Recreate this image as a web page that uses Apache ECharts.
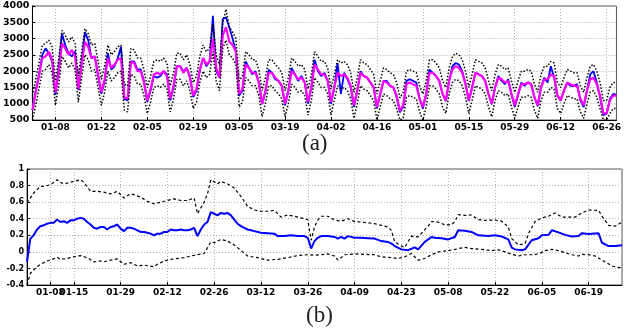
<!DOCTYPE html>
<html><head><meta charset="utf-8">
<script src="https://cdn.jsdelivr.net/npm/echarts@6/dist/echarts.min.js"></script>
<style>html,body{margin:0;padding:0;background:#fff}#c{width:624px;height:328px}</style>
</head><body><div id="c"></div>
<script>
// ---------- Panel (a): daily values, day 0 = 01-01 ----------
const topActual = [
 800,1400,1900,2500,2700,2550,2300,
 1270,2100,3150,2800,2550,2450,2600,
 1420,2300,3200,2950,2400,2450,1850,
 1300,1700,2550,2050,2150,2400,2750,
 1150,1100,2300,2300,2050,2050,1700,
 1050,1400,1850,1800,1850,2000,1900,
 1100,1500,2150,2150,2000,2100,1850,
 1200,1400,2000,2400,2150,2300,3700,2000,
 1800,3600,3650,3350,3000,2600,
 1250,1400,2300,2100,1900,2000,1650,
 980,1350,2050,1950,1750,1700,1550,
 950,1400,2100,1900,1700,1850,1650,
 1000,1500,2350,2000,1850,1950,1700,
 1000,1500,2250,1300,1950,1750,1500,
 900,1400,2000,1850,1800,1650,1500,
 860,1300,1700,1700,1550,1500,1200,
 740,900,1700,1750,1700,1650,1150,
 850,1300,2050,1950,1850,1700,1300,
 1080,1700,2150,2250,2200,2000,1600,
 1080,1500,1950,1900,1850,1700,1300,
 980,1500,1850,1700,1600,1750,1300,
 900,1250,1650,1550,1650,1600,1200,
 920,1500,1800,1650,2150,1800,1250,
 1100,1400,1650,1550,1550,1600,1100,
 900,1400,1900,2000,1650,1200,650,
 700,1150,1300,1280
];
const topPredicted = [
 800,1350,1850,2400,2450,2600,2350,
 1350,1950,2850,2700,2500,2650,2450,
 1450,2200,2900,2750,2400,2450,1900,
 1350,1750,2400,2100,2200,2350,2400,
 1200,1150,2300,2250,2000,2000,1650,
 1100,1450,1900,1950,1900,2000,1850,
 1150,1550,2150,2150,1950,2100,1800,
 1250,1450,2050,2400,2200,2300,3000,2100,
 1800,3100,3350,2900,2800,2600,
 1300,1450,2200,2100,1950,1950,1650,
 1000,1400,1950,1950,1800,1700,1550,
 1000,1400,2000,1900,1750,1800,1650,
 1050,1500,2200,2050,1900,1900,1700,
 1050,1500,1950,1850,1900,1800,1550,
 950,1400,1950,1850,1800,1650,1500,
 900,1300,1700,1650,1550,1500,1250,
 780,950,1600,1650,1600,1550,1150,
 900,1300,1950,1950,1850,1700,1300,
 1100,1700,2050,2150,2100,1950,1600,
 1100,1500,1950,1900,1850,1700,1300,
 1000,1500,1800,1750,1650,1700,1300,
 950,1300,1600,1600,1650,1600,1200,
 950,1500,1750,1750,1900,1850,1250,
 1100,1400,1650,1600,1550,1550,1150,
 950,1400,1750,1800,1600,1250,700,
 700,1100,1250,1250
];
const topUpper = [
 1250,1750,2250,2800,2850,2950,2750,
 1700,2350,3250,3100,2900,3050,2850,
 1850,2600,3300,3150,2800,2850,2300,
 1750,2150,2800,2500,2600,2750,2800,
 1600,1550,2700,2650,2400,2400,2050,
 1500,1850,2300,2350,2300,2400,2250,
 1550,1950,2550,2550,2350,2500,2200,
 1650,1850,2450,2800,2600,2700,3450,2500,
 2200,3500,3900,3350,3200,3000,
 1700,1850,2600,2500,2350,2350,2050,
 1400,1800,2350,2350,2200,2100,1950,
 1400,1800,2400,2300,2150,2200,2050,
 1450,1900,2600,2450,2300,2300,2100,
 1450,1900,2350,2250,2300,2200,1950,
 1350,1800,2350,2250,2200,2050,1900,
 1300,1700,2100,2050,1950,1900,1650,
 1180,1350,2000,2050,2000,1950,1550,
 1300,1700,2350,2350,2250,2100,1700,
 1500,2100,2450,2550,2500,2350,2000,
 1500,1900,2350,2300,2250,2100,1700,
 1400,1900,2200,2150,2050,2100,1700,
 1350,1700,2000,2000,2050,2000,1600,
 1350,1900,2150,2150,2300,2250,1650,
 1500,1800,2050,2000,1950,1950,1550,
 1350,1800,2150,2200,2000,1650,1100,
 1100,1500,1650,1650
];
const topLower = [
 500,950,1450,2000,2050,2200,1950,
 950,1550,2450,2300,2100,2250,2050,
 1050,1800,2500,2350,2000,2050,1500,
 950,1350,2000,1700,1800,1950,2000,
 800,750,1900,1850,1600,1600,1250,
 700,1050,1500,1550,1500,1600,1450,
 750,1150,1750,1750,1550,1700,1400,
 850,1050,1650,2000,1800,1900,2600,1700,
 1400,2700,2950,2500,2400,2200,
 900,1050,1800,1700,1550,1550,1250,
 600,1000,1550,1550,1400,1300,1150,
 600,1000,1600,1500,1350,1400,1250,
 650,1100,1800,1650,1500,1500,1300,
 650,1100,1550,1450,1500,1400,1150,
 550,1000,1550,1450,1400,1250,1100,
 500,900,1300,1250,1150,1100,850,
 500,550,1200,1250,1200,1150,750,
 500,900,1550,1550,1450,1300,900,
 700,1300,1650,1750,1700,1550,1200,
 700,1100,1550,1500,1450,1300,900,
 600,1100,1400,1350,1250,1300,900,
 550,900,1200,1200,1250,1200,800,
 550,1100,1350,1350,1500,1450,850,
 700,1000,1250,1200,1150,1150,750,
 550,1000,1350,1400,1200,850,500,
 500,700,850,850
];
const topTickDays = [7,21,35,49,63,77,91,105,119,133,147,161,175];
const topTickLabels = ['01-08','01-22','02-05','02-19','03-05','03-19','04-02','04-16','05-01','05-15','05-29','06-12','06-26'];

// ---------- Panel (b): [day, value] samples ----------
const botMean = [[0,-0.12],[1,0.16],[2,0.2],[3,0.27],[4,0.31],[5,0.32],[6,0.34],[7,0.35],[8,0.35],[9,0.39],[10,0.36],[11,0.37],[12,0.35],[13,0.38],[14,0.38],[15,0.40],[16,0.41],[17,0.40],[18,0.36],[19,0.33],[20,0.29],[21,0.28],[22,0.30],[23,0.30],[24,0.27],[25,0.30],[26,0.31],[27,0.33],[28,0.28],[29,0.25],[30,0.29],[31,0.29],[32,0.28],[33,0.26],[34,0.24],[35,0.24],[36,0.23],[37,0.22],[38,0.20],[39,0.22],[40,0.22],[41,0.24],[42,0.24],[43,0.27],[44,0.26],[45,0.26],[46,0.27],[47,0.26],[48,0.26],[49,0.27],[50,0.29],[51,0.19],[52,0.27],[53,0.33],[54,0.36],[55,0.48],[56,0.46],[57,0.44],[58,0.47],[59,0.46],[60,0.47],[61,0.44],[62,0.39],[63,0.34],[64,0.31],[65,0.29],[66,0.27],[67,0.26],[68,0.25],[70,0.23],[72,0.225],[74,0.22],[75,0.19],[77,0.19],[79,0.20],[81,0.19],[83,0.19],[84,0.17],[85,0.04],[86,0.13],[87,0.17],[88,0.19],[90,0.19],[92,0.18],[93,0.16],[94,0.18],[95,0.16],[96,0.19],[98,0.17],[100,0.17],[102,0.165],[104,0.16],[106,0.13],[108,0.12],[109,0.10],[110,0.07],[112,0.03],[114,0.02],[116,0.055],[117,0.03],[119,0.12],[121,0.18],[122,0.17],[124,0.165],[126,0.15],[128,0.18],[129,0.26],[131,0.255],[133,0.24],[135,0.20],[138,0.19],[140,0.20],[142,0.185],[144,0.15],[145,0.05],[146,0.03],[148,0.02],[149,0.03],[151,0.14],[153,0.165],[154,0.2],[156,0.205],[157,0.26],[159,0.235],[161,0.205],[163,0.185],[165,0.19],[166,0.225],[168,0.215],[171,0.225],[172,0.11],[174,0.07],[176,0.07],[178,0.08]];
const botUpper = [[0,0.59],[2,0.71],[4,0.79],[5,0.79],[7,0.81],[9,0.87],[10,0.84],[11,0.82],[13,0.84],[16,0.87],[17,0.84],[19,0.73],[21,0.73],[23,0.72],[25,0.70],[27,0.73],[29,0.65],[31,0.70],[32,0.69],[34,0.66],[36,0.61],[38,0.58],[40,0.60],[42,0.62],[44,0.64],[46,0.62],[48,0.62],[50,0.65],[51,0.46],[53,0.60],[54,0.70],[55,0.87],[57,0.82],[58,0.85],[60,0.82],[62,0.77],[64,0.67],[66,0.55],[68,0.505],[70,0.49],[72,0.49],[74,0.50],[76,0.42],[78,0.445],[80,0.43],[82,0.41],[84,0.39],[85,0.14],[86,0.30],[87,0.385],[88,0.43],[90,0.43],[92,0.385],[94,0.37],[96,0.40],[98,0.365],[100,0.36],[102,0.35],[104,0.34],[106,0.32],[108,0.30],[109,0.26],[110,0.12],[112,0.07],[113,0.055],[115,0.19],[117,0.18],[120,0.31],[121,0.365],[123,0.36],[125,0.325],[127,0.33],[128,0.365],[129,0.45],[131,0.44],[133,0.445],[135,0.39],[137,0.38],[140,0.385],[142,0.37],[144,0.30],[145,0.16],[147,0.083],[149,0.10],[150,0.22],[152,0.365],[154,0.41],[156,0.43],[158,0.47],[160,0.42],[162,0.42],[164,0.42],[166,0.47],[168,0.505],[171,0.50],[172,0.43],[174,0.32],[176,0.31],[178,0.36]];
const botLower = [[0,-0.4],[1,-0.26],[3,-0.18],[4,-0.15],[6,-0.11],[7,-0.10],[9,-0.065],[10,-0.09],[12,-0.08],[14,-0.06],[16,-0.045],[18,-0.07],[20,-0.12],[22,-0.11],[23,-0.12],[25,-0.10],[27,-0.085],[29,-0.15],[31,-0.13],[33,-0.17],[35,-0.16],[38,-0.18],[39,-0.15],[41,-0.11],[43,-0.09],[45,-0.08],[47,-0.07],[49,-0.05],[51,-0.035],[53,-0.02],[55,0.12],[56,0.11],[58,0.15],[60,0.13],[62,0.083],[64,0.017],[66,-0.05],[69,-0.07],[72,-0.10],[75,-0.09],[78,-0.07],[81,-0.045],[84,-0.035],[86,-0.04],[88,-0.035],[90,-0.025],[92,-0.05],[93,-0.10],[95,-0.035],[98,-0.025],[101,-0.03],[104,-0.035],[106,-0.06],[109,-0.07],[111,-0.08],[113,-0.06],[115,-0.02],[117,-0.10],[119,-0.08],[121,-0.035],[123,0.0],[126,0.015],[128,0.03],[131,0.055],[133,0.04],[136,0.03],[139,0.015],[141,0.025],[143,0.0],[145,-0.03],[147,-0.05],[149,-0.035],[151,-0.035],[153,-0.025],[155,0.015],[157,0.03],[159,0.015],[161,-0.01],[163,-0.035],[165,-0.05],[166,-0.03],[168,-0.035],[170,-0.05],[172,-0.10],[175,-0.17],[177,-0.19],[178,-0.19]];
const botTickDays = [7,14,28,42,56,70,84,98,112,126,140,154,168];
const botTickLabels = ['01-08','01-15','01-29','02-12','02-26','03-12','03-26','04-09','04-23','05-08','05-22','06-05','06-19'];

const nDays = topActual.length;
const days = Array.from({length: nDays}, (_, i) => String(i));

const labelFont = {fontFamily: 'DejaVu Sans', fontWeight: 'bold', color: '#000'};
const gridDot = {color: '#b0b0b0', type: [1, 2], width: 1};

function xAxisFor(gridIndex, tickDays, tickLabels, showLine) {
  const show = (i) => tickDays.indexOf(i) >= 0;
  return {
    type: 'category', gridIndex, data: days, boundaryGap: false, position: 'bottom',
    axisLine: {show: showLine, onZero: false, lineStyle: {color: '#000', width: 1}},
    axisTick: {show: true, inside: true, length: 3, interval: show, lineStyle: {color: '#000'}},
    axisLabel: Object.assign({interval: show, fontSize: 9, margin: 3, hideOverlap: false,
      formatter: (v) => { const k = tickDays.indexOf(Number(v)); return k >= 0 ? tickLabels[k] : ''; }}, labelFont),
    splitLine: {show: true, interval: show, lineStyle: gridDot}
  };
}

const chart = echarts.init(document.getElementById('c'), null, {renderer: 'canvas'});
chart.setOption({
  animation: false,
  backgroundColor: '#fff',
  title: [
    {text: '(a)', left: 297, top: 127, textStyle: {fontFamily: 'Liberation Serif', fontSize: 23, fontWeight: 'normal', color: '#222'}},
    {text: '(b)', left: 301, top: 299, textStyle: {fontFamily: 'Liberation Serif', fontSize: 23, fontWeight: 'normal', color: '#222'}}
  ],
  grid: [
    {left: 32, right: 4, top: 6, height: 114, show: true, borderColor: '#555', borderWidth: 1},
    {left: 27, right: 2, top: 169, height: 116, show: true, borderColor: '#555', borderWidth: 1}
  ],
  xAxis: [
    xAxisFor(0, topTickDays, topTickLabels, true),
    // panel (b): the first tick sits on its own axis so its label may overlap the next one, as in the source
    xAxisFor(1, botTickDays.slice(1), botTickLabels.slice(1), true),
    xAxisFor(1, botTickDays.slice(0, 1), botTickLabels.slice(0, 1), false)
  ],
  yAxis: [
    {type: 'value', gridIndex: 0, min: 500, max: 4000, interval: 500,
     axisLine: {show: true, lineStyle: {color: '#000'}},
     axisTick: {show: true, inside: true, length: 3, lineStyle: {color: '#000'}},
     axisLabel: Object.assign({fontSize: 9.5, margin: 3, formatter: (v) => String(v)}, labelFont),
     splitLine: {show: true, lineStyle: gridDot}},
    {type: 'value', gridIndex: 1, min: -0.4, max: 1, interval: 0.2,
     axisLine: {show: true, lineStyle: {color: '#000'}},
     axisTick: {show: true, inside: true, length: 3, lineStyle: {color: '#000'}},
     axisLabel: Object.assign({fontSize: 8, margin: 3,
       formatter: (v) => String(Math.round(v * 10) / 10)}, labelFont),
     splitLine: {show: true, lineStyle: gridDot}}
  ],
  series: [
    {type: 'line', xAxisIndex: 0, yAxisIndex: 0, data: topActual, showSymbol: false,
     lineStyle: {color: '#0000ff', width: 1.8}},
    {type: 'line', xAxisIndex: 0, yAxisIndex: 0, data: topPredicted, showSymbol: false,
     lineStyle: {color: '#ff00ff', width: 2.2}},
    {type: 'line', xAxisIndex: 0, yAxisIndex: 0, data: topUpper, showSymbol: false,
     lineStyle: {color: '#000', width: 1.5, type: [1.5, 1.8]}},
    {type: 'line', xAxisIndex: 0, yAxisIndex: 0, data: topLower, showSymbol: false,
     lineStyle: {color: '#000', width: 1.5, type: [1.5, 1.8]}},
    {type: 'line', xAxisIndex: 1, yAxisIndex: 1, data: botUpper, showSymbol: false,
     lineStyle: {color: '#000', width: 1.2, type: [3, 2.5]}},
    {type: 'line', xAxisIndex: 1, yAxisIndex: 1, data: botLower, showSymbol: false,
     lineStyle: {color: '#000', width: 1.2, type: [3, 2.5]}},
    {type: 'line', xAxisIndex: 1, yAxisIndex: 1, data: botMean, showSymbol: false,
     lineStyle: {color: '#0000ff', width: 2}}
  ]
});
</script></body></html>
